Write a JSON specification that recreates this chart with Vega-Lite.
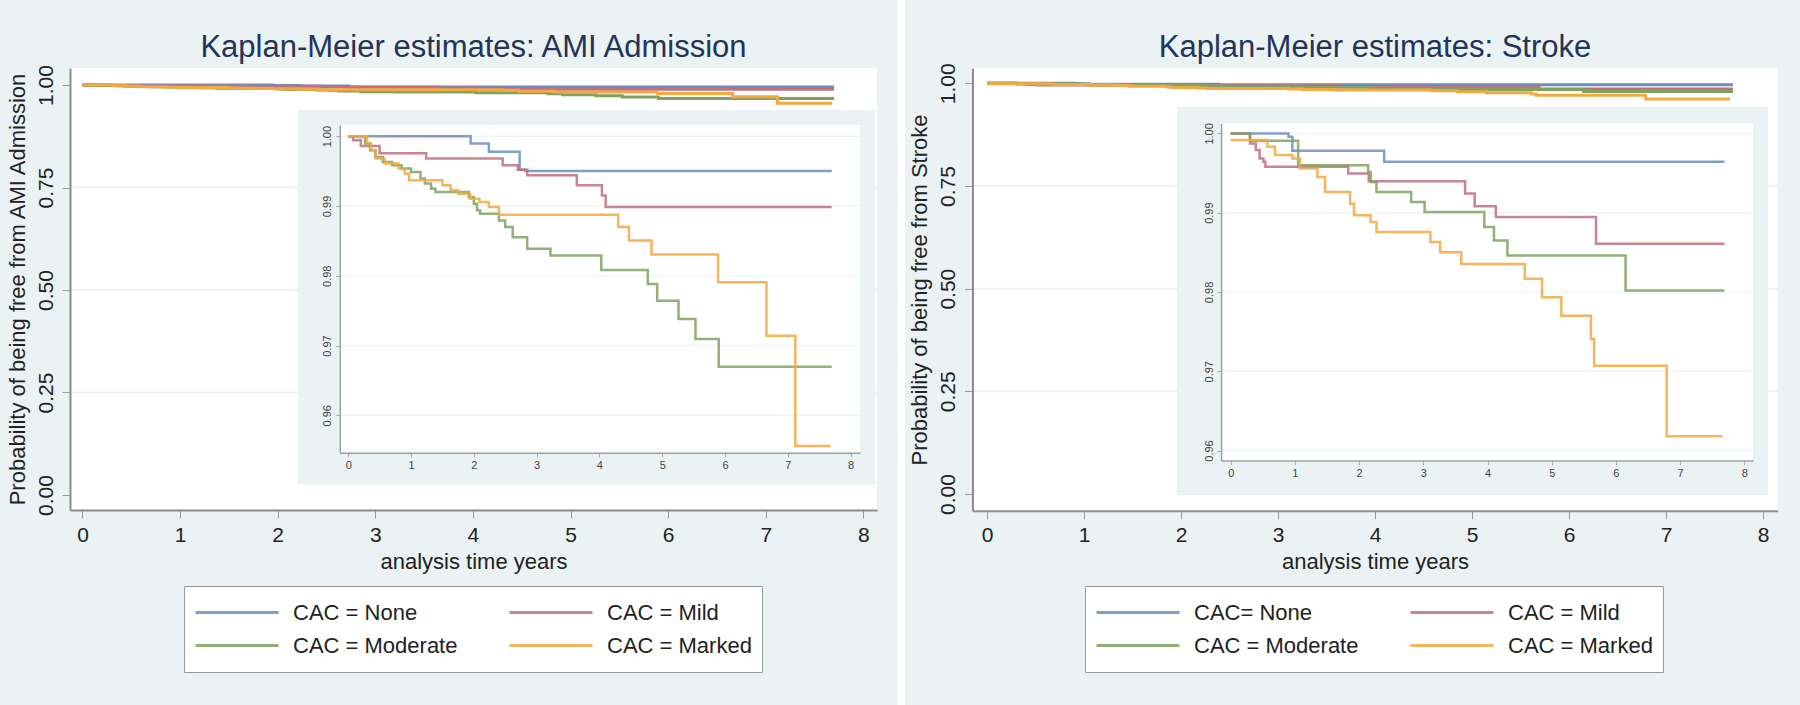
{
  "$schema": "https://vega.github.io/schema/vega-lite/v6.json",
  "background": "white",
  "padding": 0,
  "spacing": 7,
  "config": {"font": "Liberation Sans", "axis": {"grid": false, "zindex": 2}, "view": {"stroke": null}},
  "resolve": {"scale": {"color": "independent"}, "legend": {"color": "independent"}},
  "datasets": {
    "ami": [
      {"grp": "CAC = None", "t": 0, "s": 1.0}, {"grp": "CAC = None", "t": 1.95, "s": 0.99895}, {"grp": "CAC = None", "t": 2.24, "s": 0.99775}, {"grp": "CAC = None", "t": 2.73, "s": 0.9952}, {"grp": "CAC = None", "t": 2.82, "s": 0.995}, {"grp": "CAC = None", "t": 7.7, "s": 0.995},
      {"grp": "CAC = Mild", "t": 0, "s": 1.0}, {"grp": "CAC = Mild", "t": 0.08, "s": 0.9994}, {"grp": "CAC = Mild", "t": 0.2, "s": 0.9986}, {"grp": "CAC = Mild", "t": 0.5, "s": 0.99755}, {"grp": "CAC = Mild", "t": 1.24, "s": 0.99679}, {"grp": "CAC = Mild", "t": 2.46, "s": 0.99583}, {"grp": "CAC = Mild", "t": 2.7, "s": 0.9952}, {"grp": "CAC = Mild", "t": 2.85, "s": 0.9944}, {"grp": "CAC = Mild", "t": 3.64, "s": 0.99296}, {"grp": "CAC = Mild", "t": 4.04, "s": 0.9915}, {"grp": "CAC = Mild", "t": 4.1, "s": 0.98984}, {"grp": "CAC = Mild", "t": 7.7, "s": 0.98984},
      {"grp": "CAC = Moderate", "t": 0, "s": 1.0}, {"grp": "CAC = Moderate", "t": 0.27, "s": 0.99895}, {"grp": "CAC = Moderate", "t": 0.35, "s": 0.99799}, {"grp": "CAC = Moderate", "t": 0.43, "s": 0.99703}, {"grp": "CAC = Moderate", "t": 0.55, "s": 0.99631}, {"grp": "CAC = Moderate", "t": 0.7, "s": 0.99583}, {"grp": "CAC = Moderate", "t": 0.85, "s": 0.99535}, {"grp": "CAC = Moderate", "t": 1.0, "s": 0.99487}, {"grp": "CAC = Moderate", "t": 1.15, "s": 0.99392}, {"grp": "CAC = Moderate", "t": 1.22, "s": 0.9932}, {"grp": "CAC = Moderate", "t": 1.32, "s": 0.99248}, {"grp": "CAC = Moderate", "t": 1.39, "s": 0.992}, {"grp": "CAC = Moderate", "t": 1.92, "s": 0.99128}, {"grp": "CAC = Moderate", "t": 2.0, "s": 0.99032}, {"grp": "CAC = Moderate", "t": 2.05, "s": 0.98937}, {"grp": "CAC = Moderate", "t": 2.1, "s": 0.98889}, {"grp": "CAC = Moderate", "t": 2.4, "s": 0.98793}, {"grp": "CAC = Moderate", "t": 2.5, "s": 0.98697}, {"grp": "CAC = Moderate", "t": 2.62, "s": 0.98553}, {"grp": "CAC = Moderate", "t": 2.85, "s": 0.98386}, {"grp": "CAC = Moderate", "t": 3.22, "s": 0.9829}, {"grp": "CAC = Moderate", "t": 4.03, "s": 0.98084}, {"grp": "CAC = Moderate", "t": 4.77, "s": 0.97883}, {"grp": "CAC = Moderate", "t": 4.92, "s": 0.97643}, {"grp": "CAC = Moderate", "t": 5.26, "s": 0.9738}, {"grp": "CAC = Moderate", "t": 5.53, "s": 0.97092}, {"grp": "CAC = Moderate", "t": 5.9, "s": 0.96695}, {"grp": "CAC = Moderate", "t": 7.7, "s": 0.96695},
      {"grp": "CAC = Marked", "t": 0, "s": 1.0}, {"grp": "CAC = Marked", "t": 0.3, "s": 0.99895}, {"grp": "CAC = Marked", "t": 0.36, "s": 0.99799}, {"grp": "CAC = Marked", "t": 0.44, "s": 0.99679}, {"grp": "CAC = Marked", "t": 0.58, "s": 0.99607}, {"grp": "CAC = Marked", "t": 0.8, "s": 0.99535}, {"grp": "CAC = Marked", "t": 0.9, "s": 0.99463}, {"grp": "CAC = Marked", "t": 0.97, "s": 0.99368}, {"grp": "CAC = Marked", "t": 1.5, "s": 0.99296}, {"grp": "CAC = Marked", "t": 1.63, "s": 0.99224}, {"grp": "CAC = Marked", "t": 1.75, "s": 0.99176}, {"grp": "CAC = Marked", "t": 1.94, "s": 0.99104}, {"grp": "CAC = Marked", "t": 2.09, "s": 0.99056}, {"grp": "CAC = Marked", "t": 2.24, "s": 0.98985}, {"grp": "CAC = Marked", "t": 2.4, "s": 0.98874}, {"grp": "CAC = Marked", "t": 4.3, "s": 0.98697}, {"grp": "CAC = Marked", "t": 4.47, "s": 0.98505}, {"grp": "CAC = Marked", "t": 4.83, "s": 0.98304}, {"grp": "CAC = Marked", "t": 5.89, "s": 0.97907}, {"grp": "CAC = Marked", "t": 6.66, "s": 0.9714}, {"grp": "CAC = Marked", "t": 7.12, "s": 0.95559}, {"grp": "CAC = Marked", "t": 7.68, "s": 0.95559}
    ],
    "stroke": [
      {"grp": "CAC= None", "t": 0, "s": 1.0}, {"grp": "CAC= None", "t": 0.9, "s": 0.99958}, {"grp": "CAC= None", "t": 0.96, "s": 0.99781}, {"grp": "CAC= None", "t": 2.39, "s": 0.99641}, {"grp": "CAC= None", "t": 7.69, "s": 0.99641},
      {"grp": "CAC = Mild", "t": 0, "s": 1.0}, {"grp": "CAC = Mild", "t": 0.3, "s": 0.99873}, {"grp": "CAC = Mild", "t": 0.39, "s": 0.99789}, {"grp": "CAC = Mild", "t": 0.45, "s": 0.99684}, {"grp": "CAC = Mild", "t": 0.51, "s": 0.99641}, {"grp": "CAC = Mild", "t": 0.54, "s": 0.99578}, {"grp": "CAC = Mild", "t": 1.83, "s": 0.99494}, {"grp": "CAC = Mild", "t": 2.15, "s": 0.99397}, {"grp": "CAC = Mild", "t": 3.65, "s": 0.99241}, {"grp": "CAC = Mild", "t": 3.8, "s": 0.9908}, {"grp": "CAC = Mild", "t": 4.13, "s": 0.98945}, {"grp": "CAC = Mild", "t": 5.69, "s": 0.98608}, {"grp": "CAC = Mild", "t": 7.69, "s": 0.98608},
      {"grp": "CAC = Moderate", "t": 0, "s": 1.0}, {"grp": "CAC = Moderate", "t": 0.3, "s": 0.99907}, {"grp": "CAC = Moderate", "t": 1.05, "s": 0.99599}, {"grp": "CAC = Moderate", "t": 2.14, "s": 0.99515}, {"grp": "CAC = Moderate", "t": 2.18, "s": 0.99388}, {"grp": "CAC = Moderate", "t": 2.27, "s": 0.99262}, {"grp": "CAC = Moderate", "t": 2.81, "s": 0.99135}, {"grp": "CAC = Moderate", "t": 3.02, "s": 0.99008}, {"grp": "CAC = Moderate", "t": 3.95, "s": 0.98819}, {"grp": "CAC = Moderate", "t": 4.1, "s": 0.9865}, {"grp": "CAC = Moderate", "t": 4.31, "s": 0.9846}, {"grp": "CAC = Moderate", "t": 6.15, "s": 0.98017}, {"grp": "CAC = Moderate", "t": 7.69, "s": 0.98017},
      {"grp": "CAC = Marked", "t": 0, "s": 0.99916}, {"grp": "CAC = Marked", "t": 0.57, "s": 0.99831}, {"grp": "CAC = Marked", "t": 0.69, "s": 0.99726}, {"grp": "CAC = Marked", "t": 0.96, "s": 0.99684}, {"grp": "CAC = Marked", "t": 1.08, "s": 0.99557}, {"grp": "CAC = Marked", "t": 1.35, "s": 0.99451}, {"grp": "CAC = Marked", "t": 1.47, "s": 0.99262}, {"grp": "CAC = Marked", "t": 1.86, "s": 0.99114}, {"grp": "CAC = Marked", "t": 1.92, "s": 0.98966}, {"grp": "CAC = Marked", "t": 2.18, "s": 0.98882}, {"grp": "CAC = Marked", "t": 2.27, "s": 0.98755}, {"grp": "CAC = Marked", "t": 3.11, "s": 0.98629}, {"grp": "CAC = Marked", "t": 3.26, "s": 0.98502}, {"grp": "CAC = Marked", "t": 3.59, "s": 0.98354}, {"grp": "CAC = Marked", "t": 4.58, "s": 0.98165}, {"grp": "CAC = Marked", "t": 4.85, "s": 0.97932}, {"grp": "CAC = Marked", "t": 5.15, "s": 0.977}, {"grp": "CAC = Marked", "t": 5.61, "s": 0.97405}, {"grp": "CAC = Marked", "t": 5.66, "s": 0.97068}, {"grp": "CAC = Marked", "t": 6.79, "s": 0.96181}, {"grp": "CAC = Marked", "t": 7.66, "s": 0.96181}
    ]
  },
  "hconcat": [
    {
      "width": 898, "height": 705,
      "view": {"fill": "#eaf2f3", "stroke": null},
      "resolve": {"scale": {"x": "independent", "y": "independent"}},
      "layer": [
        {
          "layer": [
            {"data": {"values": [{}]}, "mark": {"type": "rect", "fill": "white"},
             "encoding": {
               "x": {"datum": -0.128, "type": "quantitative", "scale": {"domain": [-0.128, 8.14], "range": [70, 877], "nice": false, "zero": false},
                     "axis": {"orient": "bottom", "offset": -195, "zindex": 2, "values": [0,1,2,3,4,5,6,7,8], "format": "d", "title": "analysis time years", "titleFontSize": 22, "titleFontWeight": "normal", "titleColor": "#222", "titlePadding": 6, "labelFontSize": 21, "labelColor": "#222", "labelPadding": 6, "tickSize": 8, "tickColor": "#999", "domainColor": "#8c8c8c", "domainWidth": 2}},
               "x2": {"datum": 8.14},
               "y": {"datum": -0.0366, "type": "quantitative", "scale": {"domain": [-0.0366, 1.0415], "range": [510, 68], "nice": false, "zero": false},
                     "axis": {"orient": "left", "offset": -70, "zindex": 2, "values": [0, 0.25, 0.5, 0.75, 1], "format": ".2f", "labelAngle": -90, "labelAlign": "center", "labelBaseline": "bottom", "title": "Probability of being free from AMI Admission", "titleFontSize": 22, "titleFontWeight": "normal", "titleColor": "#222", "titlePadding": 6, "labelFontSize": 21, "labelColor": "#222", "labelPadding": 6, "tickSize": 8, "tickColor": "#999", "domainColor": "#8c8c8c", "domainWidth": 2}},
               "y2": {"datum": 1.0415}}},
            {"data": {"values": [{"g": 0.25}, {"g": 0.5}, {"g": 0.75}]}, "mark": {"type": "rule", "color": "#eaf2f3", "strokeWidth": 2},
             "encoding": {
               "y": {"field": "g", "type": "quantitative", "scale": {"domain": [-0.0366, 1.0415], "range": [510, 68], "nice": false, "zero": false}},
               "x": {"datum": -0.128, "type": "quantitative", "scale": {"domain": [-0.128, 8.14], "range": [70, 877], "nice": false, "zero": false}},
               "x2": {"datum": 8.14}}},
            {"data": {"values": [{"title": "Kaplan-Meier estimates: AMI Admission"}]}, "mark": {"type": "text", "fontSize": 31, "color": "#24335a", "align": "center", "baseline": "middle"},
             "encoding": {
               "text": {"field": "title"},
               "x": {"datum": 4.006, "type": "quantitative", "scale": {"domain": [-0.128, 8.14], "range": [70, 877], "nice": false, "zero": false}},
               "y": {"datum": 1.0903, "type": "quantitative", "scale": {"domain": [-0.0366, 1.0415], "range": [510, 68], "nice": false, "zero": false}}}},
            {"data": {"name": "ami"}, "mark": {"type": "line", "interpolate": "step-after", "strokeWidth": 3},
             "encoding": {
               "x": {"field": "t", "type": "quantitative", "scale": {"domain": [-0.128, 8.14], "range": [70, 877], "nice": false, "zero": false}},
               "y": {"field": "s", "type": "quantitative", "scale": {"domain": [-0.0366, 1.0415], "range": [510, 68], "nice": false, "zero": false}},
               "color": {"field": "grp", "type": "nominal", "scale": {"domain": ["CAC = None", "CAC = Mild", "CAC = Moderate", "CAC = Marked"], "range": ["#6c8ebf", "#c0707e", "#7ea35f", "#f5a840"]},
                 "legend": {"orient": "none", "legendX": 184, "legendY": 586, "columns": 2, "direction": "horizontal", "title": null, "symbolType": "stroke", "symbolSize": 6889, "symbolStrokeWidth": 3, "clipHeight": 33, "rowPadding": 0, "columnPadding": 50, "labelOffset": 13, "labelFontSize": 22, "labelColor": "#222", "labelLimit": 400, "padding": 10, "fillColor": "white", "strokeColor": "#9a9a9a"}}}}
          ]
        },
        {
          "layer": [
            {"data": {"values": [{}]}, "mark": {"type": "rect", "fill": "#eaf2f3"},
             "encoding": {
               "x": {"datum": -0.804, "type": "quantitative", "scale": {"domain": [-0.134, 8.153], "range": [339.8, 860.2], "nice": false, "zero": false},
                     "axis": {"orient": "bottom", "offset": -252.2, "zindex": 2, "values": [0,1,2,3,4,5,6,7,8], "format": "d", "title": null, "labelFontSize": 11, "labelColor": "#444", "labelPadding": 3, "tickSize": 4, "tickColor": "#aaa", "domainColor": "#a0a0a0", "domainWidth": 1.5}},
               "x2": {"datum": 8.396},
               "y": {"datum": 0.95009, "type": "quantitative", "scale": {"domain": [0.95463, 1.0016], "range": [452.8, 125], "nice": false, "zero": false},
                     "axis": {"orient": "left", "offset": -339.8, "zindex": 2, "values": [0.96, 0.97, 0.98, 0.99, 1.0], "format": ".2f", "labelAngle": -90, "labelAlign": "center", "labelBaseline": "bottom", "title": null, "labelFontSize": 11, "labelColor": "#444", "labelPadding": 3, "tickSize": 4, "tickColor": "#aaa", "domainColor": "#a0a0a0", "domainWidth": 1.5}},
               "y2": {"datum": 1.00374}}},
            {"data": {"values": [{}]}, "mark": {"type": "rect", "fill": "white"},
             "encoding": {
               "x": {"datum": -0.134, "type": "quantitative", "scale": {"domain": [-0.134, 8.153], "range": [339.8, 860.2], "nice": false, "zero": false}},
               "x2": {"datum": 8.153},
               "y": {"datum": 0.95463, "type": "quantitative", "scale": {"domain": [0.95463, 1.0016], "range": [452.8, 125], "nice": false, "zero": false}},
               "y2": {"datum": 1.0016}}},
            {"data": {"values": [{"g": 0.96}, {"g": 0.97}, {"g": 0.98}, {"g": 0.99}, {"g": 1.0}]}, "mark": {"type": "rule", "color": "#eef4f5", "strokeWidth": 1.5},
             "encoding": {
               "y": {"field": "g", "type": "quantitative", "scale": {"domain": [0.95463, 1.0016], "range": [452.8, 125], "nice": false, "zero": false}},
               "x": {"datum": -0.134, "type": "quantitative", "scale": {"domain": [-0.134, 8.153], "range": [339.8, 860.2], "nice": false, "zero": false}},
               "x2": {"datum": 8.153}}},
            {"data": {"name": "ami"}, "mark": {"type": "line", "interpolate": "step-after", "strokeWidth": 2.5, "opacity": 0.85},
             "encoding": {
               "x": {"field": "t", "type": "quantitative", "scale": {"domain": [-0.134, 8.153], "range": [339.8, 860.2], "nice": false, "zero": false}},
               "y": {"field": "s", "type": "quantitative", "scale": {"domain": [0.95463, 1.0016], "range": [452.8, 125], "nice": false, "zero": false}},
               "color": {"field": "grp", "type": "nominal", "scale": {"domain": ["CAC = None", "CAC = Mild", "CAC = Moderate", "CAC = Marked"], "range": ["#6c8ebf", "#c0707e", "#7ea35f", "#f5a840"]},
                 "legend": {"orient": "none", "legendX": 184, "legendY": 586, "columns": 2, "direction": "horizontal", "title": null, "symbolType": "stroke", "symbolSize": 6889, "symbolStrokeWidth": 3, "clipHeight": 33, "rowPadding": 0, "columnPadding": 50, "labelOffset": 13, "labelFontSize": 22, "labelColor": "#222", "labelLimit": 400, "padding": 10, "fillColor": "white", "strokeColor": "#9a9a9a"}}}}
          ]
        }
      ]
    },
    {
      "width": 895, "height": 705,
      "view": {"fill": "#eaf2f3", "stroke": null},
      "resolve": {"scale": {"x": "independent", "y": "independent"}},
      "layer": [
        {
          "layer": [
            {"data": {"values": [{}]}, "mark": {"type": "rect", "fill": "white"},
             "encoding": {
               "x": {"datum": -0.15, "type": "quantitative", "scale": {"domain": [-0.15, 8.15], "range": [67.45, 872.55], "nice": false, "zero": false},
                     "axis": {"orient": "bottom", "offset": -194.3, "zindex": 2, "values": [0,1,2,3,4,5,6,7,8], "format": "d", "title": "analysis time years", "titleFontSize": 22, "titleFontWeight": "normal", "titleColor": "#222", "titlePadding": 6, "labelFontSize": 21, "labelColor": "#222", "labelPadding": 6, "tickSize": 8, "tickColor": "#999", "domainColor": "#8c8c8c", "domainWidth": 2}},
               "x2": {"datum": 8.15},
               "y": {"datum": -0.0407, "type": "quantitative", "scale": {"domain": [-0.0407, 1.0365], "range": [510.7, 68.3], "nice": false, "zero": false},
                     "axis": {"orient": "left", "offset": -67.45, "zindex": 2, "values": [0, 0.25, 0.5, 0.75, 1], "format": ".2f", "labelAngle": -90, "labelAlign": "center", "labelBaseline": "bottom", "title": "Probability of being free from Stroke", "titleFontSize": 22, "titleFontWeight": "normal", "titleColor": "#222", "titlePadding": 6, "labelFontSize": 21, "labelColor": "#222", "labelPadding": 6, "tickSize": 8, "tickColor": "#999", "domainColor": "#8c8c8c", "domainWidth": 2}},
               "y2": {"datum": 1.0365}}},
            {"data": {"values": [{"g": 0.25}, {"g": 0.5}, {"g": 0.75}]}, "mark": {"type": "rule", "color": "#eaf2f3", "strokeWidth": 2},
             "encoding": {
               "y": {"field": "g", "type": "quantitative", "scale": {"domain": [-0.0407, 1.0365], "range": [510.7, 68.3], "nice": false, "zero": false}},
               "x": {"datum": -0.15, "type": "quantitative", "scale": {"domain": [-0.15, 8.15], "range": [67.45, 872.55], "nice": false, "zero": false}},
               "x2": {"datum": 8.15}}},
            {"data": {"values": [{"title": "Kaplan-Meier estimates: Stroke"}]}, "mark": {"type": "text", "fontSize": 31, "color": "#24335a", "align": "center", "baseline": "middle"},
             "encoding": {
               "text": {"field": "title"},
               "x": {"datum": 4.0, "type": "quantitative", "scale": {"domain": [-0.15, 8.15], "range": [67.45, 872.55], "nice": false, "zero": false}},
               "y": {"datum": 1.0859, "type": "quantitative", "scale": {"domain": [-0.0407, 1.0365], "range": [510.7, 68.3], "nice": false, "zero": false}}}},
            {"data": {"name": "stroke"}, "mark": {"type": "line", "interpolate": "step-after", "strokeWidth": 3},
             "encoding": {
               "x": {"field": "t", "type": "quantitative", "scale": {"domain": [-0.15, 8.15], "range": [67.45, 872.55], "nice": false, "zero": false}},
               "y": {"field": "s", "type": "quantitative", "scale": {"domain": [-0.0407, 1.0365], "range": [510.7, 68.3], "nice": false, "zero": false}},
               "color": {"field": "grp", "type": "nominal", "scale": {"domain": ["CAC= None", "CAC = Mild", "CAC = Moderate", "CAC = Marked"], "range": ["#6c8ebf", "#c0707e", "#7ea35f", "#f5a840"]},
                 "legend": {"orient": "none", "legendX": 180, "legendY": 586, "columns": 2, "direction": "horizontal", "title": null, "symbolType": "stroke", "symbolSize": 6889, "symbolStrokeWidth": 3, "clipHeight": 33, "rowPadding": 0, "columnPadding": 50, "labelOffset": 13, "labelFontSize": 22, "labelColor": "#222", "labelLimit": 400, "padding": 10, "fillColor": "white", "strokeColor": "#9a9a9a"}}}}
          ]
        },
        {
          "layer": [
            {"data": {"values": [{}]}, "mark": {"type": "rect", "fill": "#eaf2f3"},
             "encoding": {
               "x": {"datum": -0.838, "type": "quantitative", "scale": {"domain": [-0.15, 8.135], "range": [316.1, 848], "nice": false, "zero": false},
                     "axis": {"orient": "bottom", "offset": -244.5, "zindex": 2, "values": [0,1,2,3,4,5,6,7,8], "format": "d", "title": null, "labelFontSize": 11, "labelColor": "#444", "labelPadding": 3, "tickSize": 4, "tickColor": "#aaa", "domainColor": "#a0a0a0", "domainWidth": 1.5}},
               "x2": {"datum": 8.369},
               "y": {"datum": 0.95439, "type": "quantitative", "scale": {"domain": [0.95874, 1.00126], "range": [460.5, 123.4], "nice": false, "zero": false},
                     "axis": {"orient": "left", "offset": -316.1, "zindex": 2, "values": [0.96, 0.97, 0.98, 0.99, 1.0], "format": ".2f", "labelAngle": -90, "labelAlign": "center", "labelBaseline": "bottom", "title": null, "labelFontSize": 11, "labelColor": "#444", "labelPadding": 3, "tickSize": 4, "tickColor": "#aaa", "domainColor": "#a0a0a0", "domainWidth": 1.5}},
               "y2": {"datum": 1.00337}}},
            {"data": {"values": [{}]}, "mark": {"type": "rect", "fill": "white"},
             "encoding": {
               "x": {"datum": -0.15, "type": "quantitative", "scale": {"domain": [-0.15, 8.135], "range": [316.1, 848], "nice": false, "zero": false}},
               "x2": {"datum": 8.135},
               "y": {"datum": 0.95874, "type": "quantitative", "scale": {"domain": [0.95874, 1.00126], "range": [460.5, 123.4], "nice": false, "zero": false}},
               "y2": {"datum": 1.00126}}},
            {"data": {"values": [{"g": 0.96}, {"g": 0.97}, {"g": 0.98}, {"g": 0.99}, {"g": 1.0}]}, "mark": {"type": "rule", "color": "#eef4f5", "strokeWidth": 1.5},
             "encoding": {
               "y": {"field": "g", "type": "quantitative", "scale": {"domain": [0.95874, 1.00126], "range": [460.5, 123.4], "nice": false, "zero": false}},
               "x": {"datum": -0.15, "type": "quantitative", "scale": {"domain": [-0.15, 8.135], "range": [316.1, 848], "nice": false, "zero": false}},
               "x2": {"datum": 8.135}}},
            {"data": {"name": "stroke"}, "mark": {"type": "line", "interpolate": "step-after", "strokeWidth": 2.5, "opacity": 0.85},
             "encoding": {
               "x": {"field": "t", "type": "quantitative", "scale": {"domain": [-0.15, 8.135], "range": [316.1, 848], "nice": false, "zero": false}},
               "y": {"field": "s", "type": "quantitative", "scale": {"domain": [0.95874, 1.00126], "range": [460.5, 123.4], "nice": false, "zero": false}},
               "color": {"field": "grp", "type": "nominal", "scale": {"domain": ["CAC= None", "CAC = Mild", "CAC = Moderate", "CAC = Marked"], "range": ["#6c8ebf", "#c0707e", "#7ea35f", "#f5a840"]},
                 "legend": {"orient": "none", "legendX": 180, "legendY": 586, "columns": 2, "direction": "horizontal", "title": null, "symbolType": "stroke", "symbolSize": 6889, "symbolStrokeWidth": 3, "clipHeight": 33, "rowPadding": 0, "columnPadding": 50, "labelOffset": 13, "labelFontSize": 22, "labelColor": "#222", "labelLimit": 400, "padding": 10, "fillColor": "white", "strokeColor": "#9a9a9a"}}}}
          ]
        }
      ]
    }
  ]
}
